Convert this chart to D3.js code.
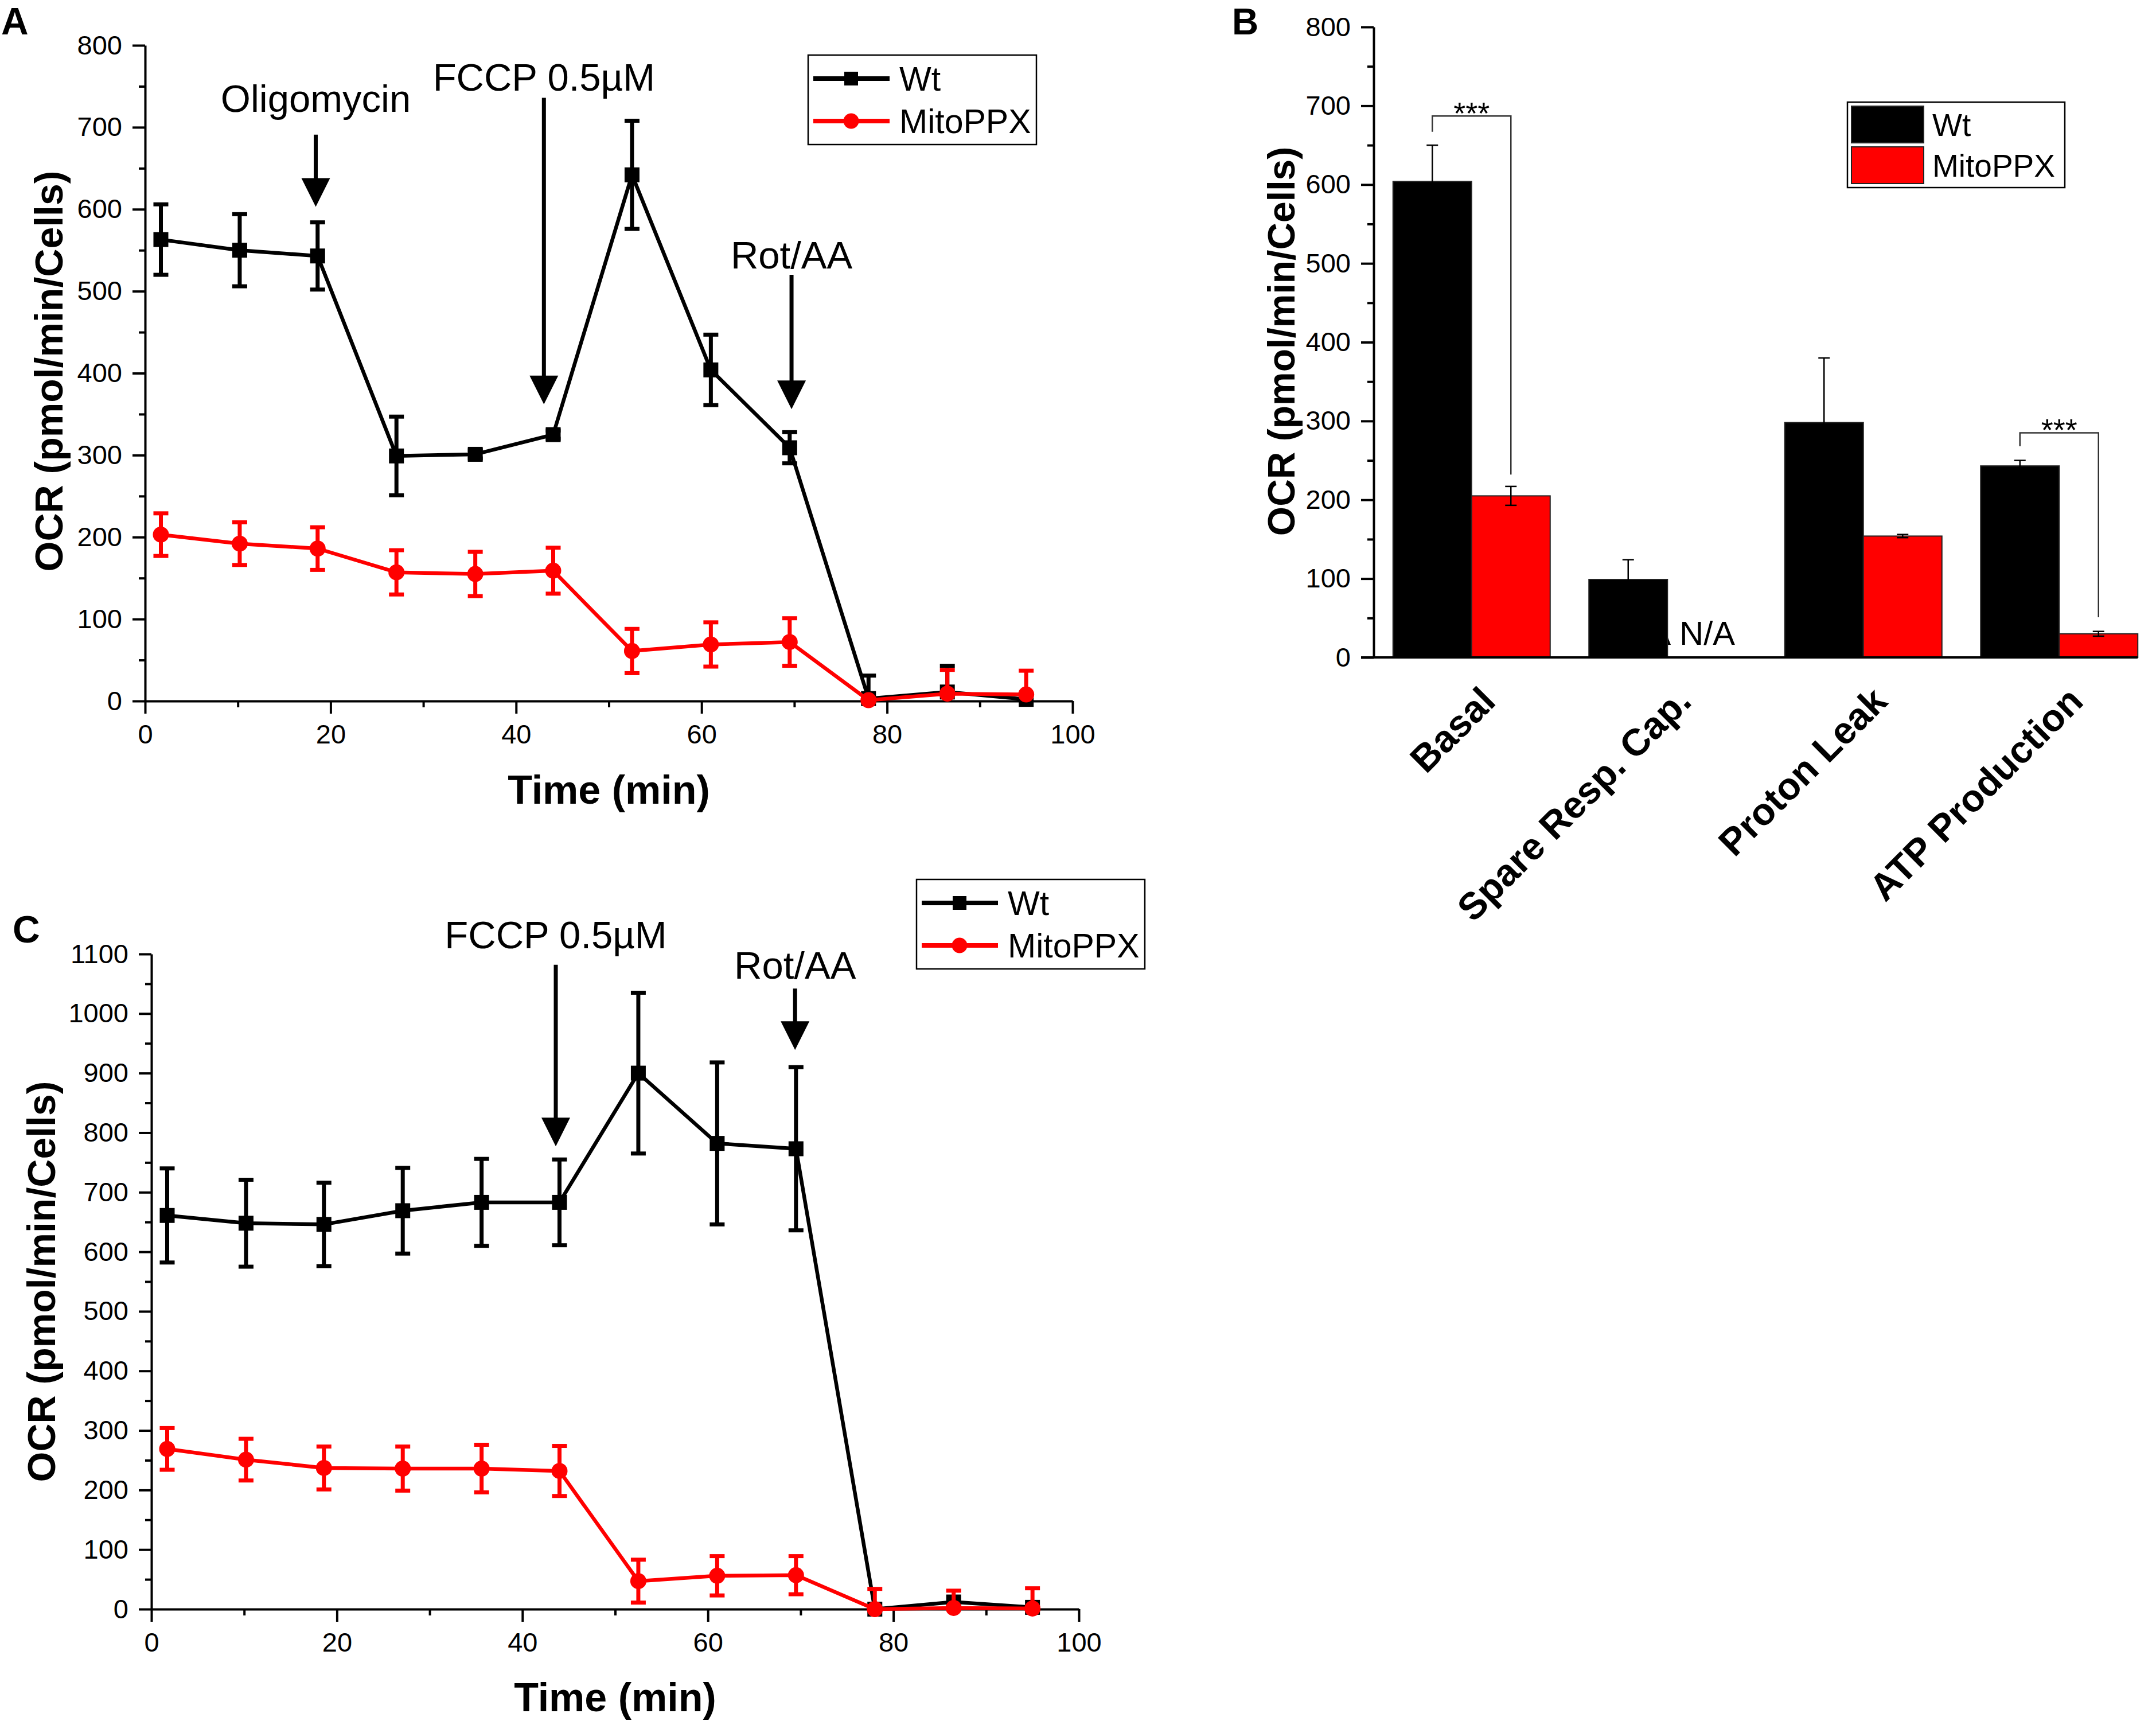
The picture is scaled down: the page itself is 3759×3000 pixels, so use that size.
<!DOCTYPE html>
<html>
<head>
<meta charset="utf-8">
<script src="https://cdn.jsdelivr.net/npm/d3@7"></script>
<style>
  body { margin: 0; background: #fff; }
  text { font-family: "Liberation Sans", Arial, sans-serif; }
</style>
</head>
<body>
<script>
// data
var times = [1.7, 10.2, 18.6, 27.1, 35.6, 44.0, 52.5, 61.0, 69.5, 78.0, 86.5, 95.0];

var wtA = [563, 550, 543, 299, 301, 325, 642, 404, 309, 3, 11, 2];
var wtAerr = [43, 44, 41, 48, 5, 5, 66, 43, 19, 28, 32, 0];
var ppxA = [203, 192, 186, 157, 155, 159, 61, 69, 72, 1, 9, 8];
var ppxAerr = [26, 26, 26, 27, 27, 28, 27, 27, 29, 2, 29, 29];

var wtC = [661, 648, 646, 669, 683, 683, 900, 782, 773, 0, 12, 3];
var wtCerr = [79, 73, 70, 72, 73, 72, 135, 136, 137, 0, 0, 0];
var ppxC = [269, 251, 237, 236, 236, 232, 47, 56, 57, 0, 2, 1];
var ppxCerr = [35, 35, 36, 37, 40, 42, 36, 33, 32, 34, 29, 34];

var categories = ["Basal", "Spare Resp. Cap.", "Proton Leak", "ATP Production"];
var wtB = [604, 99, 298, 243];
var wtBerr = [46, 25, 82, 7];
var ppxB = [205, null, 154, 30];
var ppxBerr = [12, 0, 2, 3];

var seriesNames = ["Wt", "MitoPPX"];
var seriesColors = ["#000000", "#ff0000"];

// injections: label, time, label y, arrow top, arrow tip (in OCR units)
var annotA = [
  ["Oligomycin", 18.4, 719, 691, 603],
  ["FCCP 0.5\u00b5M", 43.0, 745, 736, 362],
  ["Rot/AA", 69.7, 528, 520, 356]
];
var annotC = [
  ["FCCP 0.5\u00b5M", 43.6, 1110, 1082, 777],
  ["Rot/AA", 69.4, 1059, 1042, 939]
];

var W = 3759, H = 3000;
var svg = d3.select("body").append("svg").attr("width", W).attr("height", H)
  .style("background", "#fff");

function leftAxis(g, y, maxV, x0) {
  g.append("g").attr("transform", "translate(" + x0 + ",0)")
    .call(d3.axisLeft(y).tickValues(d3.range(50, maxV, 100)).tickSize(11).tickFormat(""))
    .call(function(a) { a.select(".domain").remove(); a.selectAll("line").attr("stroke-width", 4); });
  var ax = g.append("g").attr("transform", "translate(" + x0 + ",0)")
    .call(d3.axisLeft(y).tickValues(d3.range(0, maxV + 1, 100)).tickSize(22).tickSizeOuter(0).tickPadding(18).tickFormat(d3.format("d")));
  ax.select(".domain").attr("stroke-width", 4);
  ax.selectAll("line").attr("stroke-width", 4);
  ax.selectAll("text").attr("font-size", 47).attr("font-family", "Liberation Sans, Arial, sans-serif");
}

function timePanel(cfg) {
  var g = svg.append("g");
  var x = d3.scaleLinear().domain([0, 100]).range([cfg.left, cfg.right]);
  var y = d3.scaleLinear().domain([0, cfg.maxV]).range([cfg.bottom, cfg.top]);

  leftAxis(g, y, cfg.maxV, cfg.left);

  g.append("g").attr("transform", "translate(0," + cfg.bottom + ")")
    .call(d3.axisBottom(x).tickValues(d3.range(10, 100, 20)).tickSize(11).tickFormat(""))
    .call(function(a) { a.select(".domain").remove(); a.selectAll("line").attr("stroke-width", 4); });
  var xa = g.append("g").attr("transform", "translate(0," + cfg.bottom + ")")
    .call(d3.axisBottom(x).tickValues(d3.range(0, 101, 20)).tickSize(22).tickSizeOuter(0).tickPadding(19));
  xa.select(".domain").attr("stroke-width", 4);
  xa.selectAll("line").attr("stroke-width", 4);
  xa.selectAll("text").attr("font-size", 47).attr("font-family", "Liberation Sans, Arial, sans-serif");

  g.append("text").attr("x", (cfg.left + cfg.right) / 2).attr("y", cfg.xTitleY)
    .attr("text-anchor", "middle").attr("font-size", 70).attr("font-weight", "bold").text("Time (min)");
  g.append("text").attr("transform", "translate(" + cfg.yTitleX + "," + cfg.yTitleY + ")rotate(-90)")
    .attr("text-anchor", "middle").attr("font-size", 68).attr("font-weight", "bold").text("OCR (pmol/min/Cells)");
  g.append("text").attr("x", cfg.letterX).attr("y", cfg.letterY).attr("font-size", 66)
    .attr("font-weight", "bold").text(cfg.letter);

  // annotations
  cfg.annot.forEach(function(a) {
    var ax0 = x(a[1]);
    g.append("text").attr("x", ax0).attr("y", y(a[2])).attr("text-anchor", "middle")
      .attr("font-size", 67).text(a[0]);
    g.append("line").attr("x1", ax0).attr("x2", ax0).attr("y1", y(a[3])).attr("y2", y(a[4]) - 40)
      .attr("stroke", "#000").attr("stroke-width", 7);
    var tip = y(a[4]);
    g.append("path").attr("d", "M" + (ax0 - 25) + "," + (tip - 50) + "L" + (ax0 + 25) + "," + (tip - 50) + "L" + ax0 + "," + tip + "Z")
      .attr("fill", "#000");
  });

  var sets = [[cfg.wt, cfg.wtErr], [cfg.ppx, cfg.ppxErr]];
  sets.forEach(function(s, si) {
    var col = seriesColors[si];
    var pts = times.map(function(t, i) { return [t, s[0][i], s[1][i]]; });
    g.append("path").datum(pts)
      .attr("d", d3.line().x(function(d) { return x(d[0]); }).y(function(d) { return y(d[1]); }))
      .attr("fill", "none").attr("stroke", col).attr("stroke-width", 6.5).attr("stroke-linejoin", "round");
    var eb = g.append("g").selectAll("g").data(pts.filter(function(d) { return d[2] > 0; })).enter().append("g");
    eb.append("line").attr("x1", function(d) { return x(d[0]); }).attr("x2", function(d) { return x(d[0]); })
      .attr("y1", function(d) { return y(d[1] + d[2]); }).attr("y2", function(d) { return y(Math.max(0, d[1] - d[2])); })
      .attr("stroke", col).attr("stroke-width", 7);
    eb.append("line").attr("x1", function(d) { return x(d[0]) - 13; }).attr("x2", function(d) { return x(d[0]) + 13; })
      .attr("y1", function(d) { return y(d[1] + d[2]); }).attr("y2", function(d) { return y(d[1] + d[2]); })
      .attr("stroke", col).attr("stroke-width", 7);
    eb.filter(function(d) { return d[1] - d[2] > 0; }).append("line")
      .attr("x1", function(d) { return x(d[0]) - 13; }).attr("x2", function(d) { return x(d[0]) + 13; })
      .attr("y1", function(d) { return y(d[1] - d[2]); }).attr("y2", function(d) { return y(d[1] - d[2]); })
      .attr("stroke", col).attr("stroke-width", 7);
    if (si === 0) {
      g.append("g").selectAll("rect").data(pts).enter().append("rect")
        .attr("x", function(d) { return x(d[0]) - 13; }).attr("y", function(d) { return y(d[1]) - 13; })
        .attr("width", 26).attr("height", 26).attr("fill", col);
    } else {
      g.append("g").selectAll("circle").data(pts).enter().append("circle")
        .attr("cx", function(d) { return x(d[0]); }).attr("cy", function(d) { return y(d[1]); })
        .attr("r", 14).attr("fill", col);
    }
  });

  // legend
  var lg = g.append("g").attr("transform", "translate(" + cfg.legX + "," + cfg.legY + ")");
  lg.append("rect").attr("width", 398).attr("height", 156).attr("fill", "none").attr("stroke", "#000").attr("stroke-width", 2.5);
  seriesNames.forEach(function(n, i) {
    var ly = 41 + i * 74;
    lg.append("line").attr("x1", 9).attr("x2", 142).attr("y1", ly).attr("y2", ly)
      .attr("stroke", seriesColors[i]).attr("stroke-width", 8);
    if (i === 0) lg.append("rect").attr("x", 63).attr("y", ly - 12).attr("width", 24).attr("height", 24).attr("fill", seriesColors[i]);
    else lg.append("circle").attr("cx", 75).attr("cy", ly).attr("r", 13.5).attr("fill", seriesColors[i]);
    lg.append("text").attr("x", 159).attr("y", ly + 21).attr("font-size", 59).text(n);
  });
}

timePanel({
  left: 253, right: 1870, top: 79, bottom: 1222, maxV: 800,
  wt: wtA, wtErr: wtAerr, ppx: ppxA, ppxErr: ppxAerr, annot: annotA,
  xTitleY: 1401, yTitleX: 109, yTitleY: 647, letter: "A", letterX: 2, letterY: 60,
  legX: 1409, legY: 96
});

timePanel({
  left: 264, right: 1881, top: 1663, bottom: 2805, maxV: 1100,
  wt: wtC, wtErr: wtCerr, ppx: ppxC, ppxErr: ppxCerr, annot: annotC,
  xTitleY: 2983, yTitleX: 96, yTitleY: 2234, letter: "C", letterX: 22, letterY: 1643,
  legX: 1598, legY: 1533
});

// Panel B: bar chart
(function() {
  var g = svg.append("g");
  var left = 2395, right = 3727, bottom = 1146, top = 47;
  var y = d3.scaleLinear().domain([0, 800]).range([bottom, top]);
  var x = d3.scaleBand().domain(categories).range([left, left + 4 * 341.5]);
  var xs = d3.scaleBand().domain(seriesNames).range([-137, 137]);

  // label that ended up under the bar
  g.append("text").attr("x", x(categories[1]) + x.bandwidth() / 2 + 6).attr("y", y(0) - 22)
    .attr("text-anchor", "end").attr("font-size", 58).text("N/A");

  var rows = categories.map(function(c, i) {
    return [[c, 0, wtB[i], wtBerr[i]], [c, 1, ppxB[i], ppxBerr[i]]];
  });
  var bars = d3.merge(rows).filter(function(d) { return d[2] !== null; });
  function bx(d) { return x(d[0]) + x.bandwidth() / 2 + xs(seriesNames[d[1]]); }

  g.append("g").selectAll("rect").data(bars).enter().append("rect")
    .attr("x", bx).attr("y", function(d) { return y(d[2]); })
    .attr("width", xs.bandwidth()).attr("height", function(d) { return y(0) - y(d[2]); })
    .attr("fill", function(d) { return seriesColors[d[1]]; })
    .attr("stroke", "#222").attr("stroke-width", 2);

  var eb = g.append("g").selectAll("g").data(bars).enter().append("g");
  eb.append("line").attr("x1", function(d) { return bx(d) + xs.bandwidth() / 2; })
    .attr("x2", function(d) { return bx(d) + xs.bandwidth() / 2; })
    .attr("y1", function(d) { return y(d[2] + d[3]); }).attr("y2", function(d) { return y(d[2] - d[3]); })
    .attr("stroke", "#000").attr("stroke-width", 2.5);
  [1, -1].forEach(function(sg) {
    eb.append("line").attr("x1", function(d) { return bx(d) + xs.bandwidth() / 2 - 10; })
      .attr("x2", function(d) { return bx(d) + xs.bandwidth() / 2 + 10; })
      .attr("y1", function(d) { return y(d[2] + sg * d[3]); }).attr("y2", function(d) { return y(d[2] + sg * d[3]); })
      .attr("stroke", "#000").attr("stroke-width", 2.5);
  });

  g.append("text").attr("x", x(categories[1]) + x.bandwidth() / 2 + 21).attr("y", y(0) - 22)
    .attr("font-size", 58).text("N/A");

  // significance brackets: category, top, left end, right end
  var sig = [["Basal", 687, 667, 232], ["ATP Production", 285, 268, 51]];
  sig.forEach(function(s) {
    var c = x(s[0]) + x.bandwidth() / 2, xl = c - 68.5, xr = c + 68.5;
    g.append("path").attr("d", "M" + xl + "," + y(s[2]) + "V" + y(s[1]) + "H" + xr + "V" + y(s[3]))
      .attr("fill", "none").attr("stroke", "#333").attr("stroke-width", 2.5);
    g.append("text").attr("x", c).attr("y", y(s[1]) + 14).attr("text-anchor", "middle")
      .attr("font-size", 54).text("***");
  });

  leftAxis(g, y, 800, left);
  g.append("line").attr("x1", left - 22).attr("x2", right).attr("y1", bottom).attr("y2", bottom)
    .attr("stroke", "#000").attr("stroke-width", 4);

  categories.forEach(function(c) {
    g.append("text").attr("transform", "translate(" + (x(c) + x.bandwidth() / 2 + 45) + "," + (bottom + 80) + ")rotate(-45)")
      .attr("text-anchor", "end").attr("font-size", 66).attr("font-weight", "bold").text(c);
  });

  g.append("text").attr("transform", "translate(2257,595)rotate(-90)").attr("text-anchor", "middle")
    .attr("font-size", 66).attr("font-weight", "bold").text("OCR (pmol/min/Cells)");
  g.append("text").attr("x", 2148).attr("y", 60).attr("font-size", 64).attr("font-weight", "bold").text("B");

  var lg = g.append("g").attr("transform", "translate(3221,178)");
  lg.append("rect").attr("width", 379).attr("height", 149).attr("fill", "none").attr("stroke", "#000").attr("stroke-width", 2.5);
  seriesNames.forEach(function(n, i) {
    lg.append("rect").attr("x", 7).attr("y", 7 + i * 71).attr("width", 126).attr("height", 64)
      .attr("fill", seriesColors[i]).attr("stroke", "#222").attr("stroke-width", 2);
    lg.append("text").attr("x", 148).attr("y", 59 + i * 71).attr("font-size", 55).text(n);
  });
})();
</script>
</body>
</html>
